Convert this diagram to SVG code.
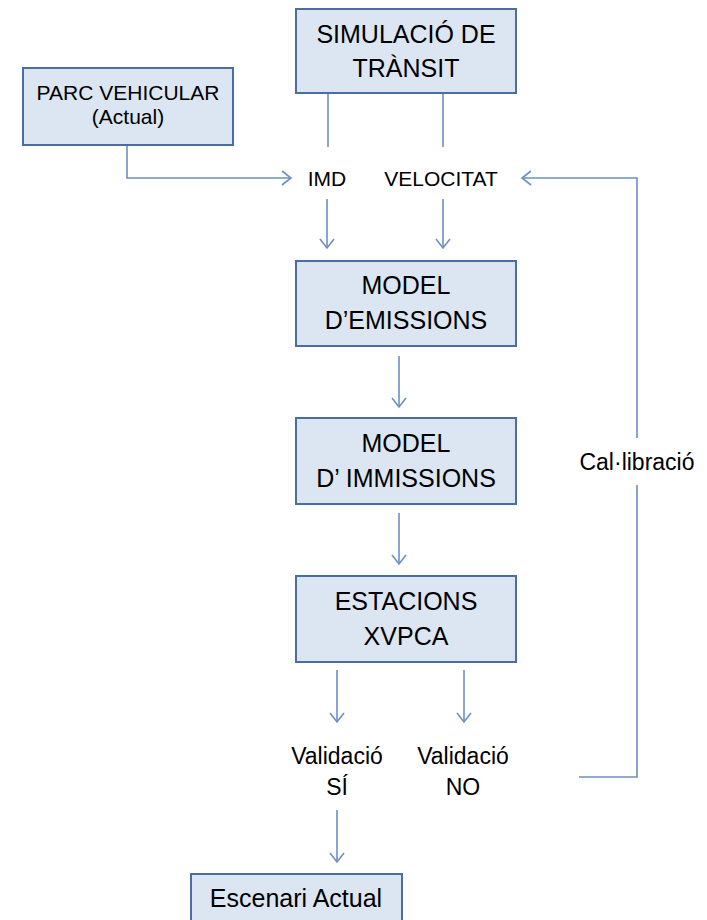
<svg xmlns="http://www.w3.org/2000/svg" width="707" height="920" viewBox="0 0 707 920">
<style>
.box{fill:#dce6f2;stroke:#4a6ea3;stroke-width:2}
.t{font-family:"Liberation Sans",Arial,sans-serif;fill:#000;text-anchor:middle}
.big{font-size:25px}
.mid{font-size:21px}
.lab{font-size:21px}
.val{font-size:23px}
.c{fill:none;stroke:#6d90c4;stroke-width:1.6}
</style>
<defs>
<marker id="ah" markerUnits="userSpaceOnUse" markerWidth="12" markerHeight="16" refX="10" refY="8" orient="auto">
<path d="M1,1 L10,8 L1,15" fill="none" stroke="#6d90c4" stroke-width="1.6"/>
</marker>
</defs>
<rect width="707" height="920" fill="#fff"/>
<g id="connectors">
<path class="c" d="M127,145 V178 H291" marker-end="url(#ah)"/>
<path class="c" d="M328,93 V147"/>
<path class="c" d="M443,93 V147"/>
<path class="c" d="M327,199 V248" marker-end="url(#ah)"/>
<path class="c" d="M443,199 V248" marker-end="url(#ah)"/>
<path class="c" d="M399,356 V407" marker-end="url(#ah)"/>
<path class="c" d="M399,513 V564" marker-end="url(#ah)"/>
<path class="c" d="M337,670 V722" marker-end="url(#ah)"/>
<path class="c" d="M464,670 V722" marker-end="url(#ah)"/>
<path class="c" d="M337,810 V862" marker-end="url(#ah)"/>
<path class="c" d="M579,777 H637 V485"/>
<path class="c" d="M637,438 V178 H522" marker-end="url(#ah)"/>
</g>
<g id="simulacio">
<rect class="box" x="296" y="9" width="220" height="84"/>
<text class="t big" x="406" y="43">SIMULACIÓ DE</text>
<text class="t big" x="406" y="77">TRÀNSIT</text>
</g>
<g id="parc">
<rect class="box" x="23" y="68" width="210" height="77"/>
<text class="t mid" x="128" y="100">PARC VEHICULAR</text>
<text class="t mid" x="128" y="124">(Actual)</text>
</g>
<g id="imd"><text class="t lab" x="327" y="186">IMD</text></g>
<g id="velocitat"><text class="t lab" x="441" y="186">VELOCITAT</text></g>
<g id="emissions">
<rect class="box" x="296" y="261" width="220" height="85"/>
<text class="t big" x="406" y="294">MODEL</text>
<text class="t big" x="406" y="329">D’EMISSIONS</text>
</g>
<g id="immissions">
<rect class="box" x="296" y="418" width="220" height="86"/>
<text class="t big" x="406" y="452">MODEL</text>
<text class="t big" x="406" y="487">D’ IMMISSIONS</text>
</g>
<g id="estacions">
<rect class="box" x="296" y="576" width="220" height="86"/>
<text class="t big" x="406" y="610">ESTACIONS</text>
<text class="t big" x="406" y="645">XVPCA</text>
</g>
<g id="valsi">
<text class="t val" x="337" y="764">Validació</text>
<text class="t val" x="337" y="795">SÍ</text>
</g>
<g id="valno">
<text class="t val" x="463" y="764">Validació</text>
<text class="t val" x="463" y="795">NO</text>
</g>
<g id="calibracio"><text class="t val" x="637" y="470">Cal·libració</text></g>
<g id="escenari">
<rect class="box" x="191" y="874" width="211" height="60"/>
<text class="t big" x="296" y="907">Escenari Actual</text>
</g>
</svg>
